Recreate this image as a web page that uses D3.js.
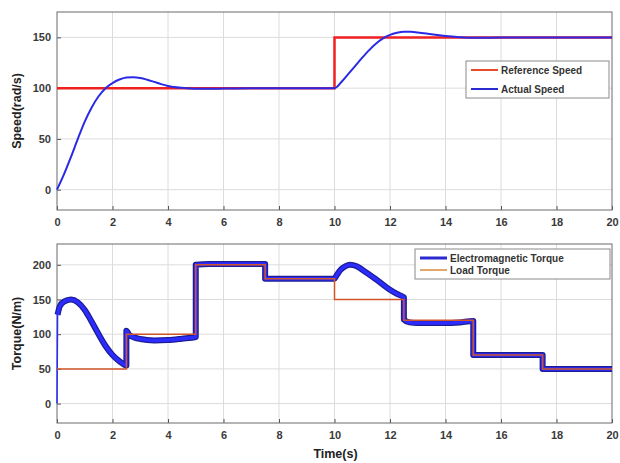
<!DOCTYPE html>
<html>
<head>
<meta charset="utf-8">
<script src="https://cdn.jsdelivr.net/npm/d3@7"></script>
<style>
  body { margin: 0; background: #fff; }
  svg { display: block; font-family: "Liberation Sans", Arial, sans-serif; }
</style>
</head>
<body>
<svg id="chart" width="620" height="463"></svg>
<script>
// Time axis ticks shared by both panels
const timeTicks = [0, 2, 4, 6, 8, 10, 12, 14, 16, 18, 20];

// Speed panel
const speedTicks = [0, 50, 100, 150];
const refSpeedT = [0, 10, 10, 20];
const refSpeedV = [100, 100, 150, 150];
const actSpeedT = [0, 0.25, 0.5, 0.75, 1.0, 1.25, 1.5, 1.75, 2.0, 2.25, 2.5, 2.75, 3.0, 3.25, 3.5, 3.75, 4.0, 4.5, 5.0, 5.5, 6.0, 7.0, 8.0, 9.0, 10.0,
                   10.25, 10.5, 10.75, 11.0, 11.25, 11.5, 11.75, 12.0, 12.25, 12.5, 12.75, 13.0, 13.5, 14.0, 14.5, 15.0, 16.0, 18.0, 20.0];
const actSpeedV = [0, 15, 32, 50, 67, 81, 92, 100, 105, 108.5, 110.5, 110.8, 110, 108.3, 106.2, 104, 102.2, 100.3, 99.4, 99.3, 99.6, 100, 100, 100, 100,
                   106, 114, 122, 130, 137.5, 144, 149, 152.5, 154.5, 155.5, 155.5, 154.8, 153, 151.3, 150.2, 149.6, 149.8, 150, 150];

// Torque panel
const torqueTicks = [0, 50, 100, 150, 200];
const loadT = [0, 2.5, 2.5, 5, 5, 7.5, 7.5, 10, 10, 12.5, 12.5, 15, 15, 17.5, 17.5, 20];
const loadV = [50, 50, 100, 100, 200, 200, 180, 180, 150, 150, 120, 120, 70, 70, 50, 50];
const emT = [0.02, 0.1, 0.25, 0.5, 0.75, 1.0, 1.25, 1.5, 1.75, 2.0, 2.25, 2.5,
             2.5, 2.6, 2.8, 3.0, 3.5, 4.0, 4.5, 5.0,
             5.0, 5.5, 6.0, 6.5, 7.0, 7.5,
             7.5, 8.0, 9.0, 10.0,
             10.05, 10.2, 10.4, 10.55, 10.8, 11.0, 11.5, 12.0, 12.25, 12.5,
             12.5, 12.7, 13.0, 13.5, 14.0, 14.5, 15.0,
             15.0, 15.5, 16.0, 17.0, 17.5,
             17.5, 18.0, 19.0, 20.0];
const emV = [128, 140, 147, 150, 146, 135, 118, 100, 83, 70, 61, 55,
             105, 99, 95, 93, 91, 91.5, 93.5, 96,
             200, 201, 201, 201, 201, 201,
             180, 180, 180, 180,
             183, 192, 198, 200, 198, 193, 179, 164, 158, 153,
             121, 117, 116, 116, 116, 117, 119,
             70, 70, 70, 70, 70,
             50, 50, 50, 50];
// start-up transient of the electromagnetic torque (t = 0)
const emStartT = [0, 0.02];
const emStartV = [0, 128];

const svg = d3.select("#chart");
const left = 57, right = 612;
const x = d3.scaleLinear().domain([0, 20]).range([left, right]);

function panel(top, bottom, yDomain, yTicks, yLabel, xLabel) {
  const y = d3.scaleLinear().domain(yDomain).range([bottom, top]);
  const g = svg.append("g");
  g.append("rect").attr("x", left).attr("y", top)
    .attr("width", right - left).attr("height", bottom - top).attr("fill", "#fff");
  // grid
  g.append("g").selectAll("line").data(timeTicks.slice(1, -1)).join("line")
    .attr("x1", d => x(d)).attr("x2", d => x(d)).attr("y1", top).attr("y2", bottom)
    .attr("stroke", "#dcdcdc").attr("stroke-width", 1);
  g.append("g").selectAll("line").data(yTicks).join("line")
    .attr("x1", left).attr("x2", right).attr("y1", d => y(d)).attr("y2", d => y(d))
    .attr("stroke", "#dcdcdc").attr("stroke-width", 1);
  // axes
  const xa = g.append("g").attr("transform", `translate(0,${bottom})`)
    .call(d3.axisBottom(x).tickValues(timeTicks).tickSize(-4).tickPadding(8).tickFormat(d3.format("d")));
  const ya = g.append("g").attr("transform", `translate(${left},0)`)
    .call(d3.axisLeft(y).tickValues(yTicks).tickSize(-4).tickPadding(6).tickFormat(d3.format("d")));
  [xa, ya].forEach(a => {
    a.select(".domain").remove();
    a.selectAll(".tick line").attr("stroke", "#555");
    a.selectAll("text").attr("fill", "#3a3a3a").attr("font-size", 11).attr("font-weight", "bold");
  });
  // box
  g.append("rect").attr("x", left).attr("y", top)
    .attr("width", right - left).attr("height", bottom - top)
    .attr("fill", "none").attr("stroke", "#6a6a6a").attr("stroke-width", 1);
  g.append("text").attr("transform", `translate(21,${(top + bottom) / 2}) rotate(-90)`)
    .attr("text-anchor", "middle").attr("font-size", 12.5).attr("font-weight", "bold")
    .attr("fill", "#222").text(yLabel);
  if (xLabel) {
    g.append("text").attr("x", (left + right) / 2 + 1).attr("y", bottom + 35)
      .attr("text-anchor", "middle").attr("font-size", 12.5).attr("font-weight", "bold")
      .attr("fill", "#222").text(xLabel);
  }
  return { y, g };
}

function legend(g, bx, by, bw, bh, items) {
  g.append("rect").attr("x", bx).attr("y", by).attr("width", bw).attr("height", bh)
    .attr("fill", "#fff").attr("stroke", "#8a8a8a").attr("stroke-width", 1);
  items.forEach((it, i) => {
    const cy = by + 9 + i * (bh - 18) / Math.max(1, items.length - 1);
    g.append("line").attr("x1", bx + 5).attr("x2", bx + 32).attr("y1", cy).attr("y2", cy)
      .attr("stroke", it.color).attr("stroke-width", it.width);
    g.append("text").attr("x", bx + 35).attr("y", cy + 3.5).attr("font-size", 10)
      .attr("font-weight", "bold").attr("fill", "#333").text(it.label);
  });
}

const line = (y) => d3.line().x(d => x(d[0])).y(d => y(d[1]));

// Speed panel
const p1 = panel(12, 210, [-20, 175], speedTicks, "Speed(rad/s)", null);
p1.g.append("path").datum(refSpeedT.map((t, i) => [t, refSpeedV[i]]))
  .attr("d", line(p1.y)).attr("fill", "none").attr("stroke", "#f02020").attr("stroke-width", 2.5);
p1.g.append("path").datum(actSpeedT.map((t, i) => [t, actSpeedV[i]]))
  .attr("d", line(p1.y).curve(d3.curveMonotoneX)).attr("fill", "none")
  .attr("stroke", "#2a2ae6").attr("stroke-width", 2);
legend(p1.g, 466, 61, 143, 37, [
  { label: "Reference Speed", color: "#e84a2a", width: 2 },
  { label: "Actual Speed", color: "#2a2ad0", width: 2 }
]);

// Torque panel
const p2 = panel(244, 423, [-28, 230], torqueTicks, "Torque(N/m)", "Time(s)");
const emData = emT.map((t, i) => [t, emV[i]]);
const emLine = line(p2.y).curve(d3.curveMonotoneX);
p2.g.append("path").datum(emStartT.map((t, i) => [t, emStartV[i]]))
  .attr("d", line(p2.y)).attr("fill", "none").attr("stroke", "#2c2cff").attr("stroke-width", 1.5);
p2.g.append("path").datum(emData).attr("d", emLine).attr("fill", "none")
  .attr("stroke", "#1c1c96").attr("stroke-width", 6).attr("stroke-linejoin", "round");
p2.g.append("path").datum(emData).attr("d", emLine).attr("fill", "none")
  .attr("stroke", "#2c2cff").attr("stroke-width", 3.5).attr("stroke-linejoin", "round");
p2.g.append("path").datum(loadT.map((t, i) => [t, loadV[i]]))
  .attr("d", line(p2.y)).attr("fill", "none").attr("stroke", "#d2552a").attr("stroke-width", 1.5);
legend(p2.g, 415, 249, 195, 30, [
  { label: "Electromagnetic Torque", color: "#2a2ad0", width: 3 },
  { label: "Load Torque", color: "#d98a3a", width: 1.5 }
]);
</script>
</body>
</html>
